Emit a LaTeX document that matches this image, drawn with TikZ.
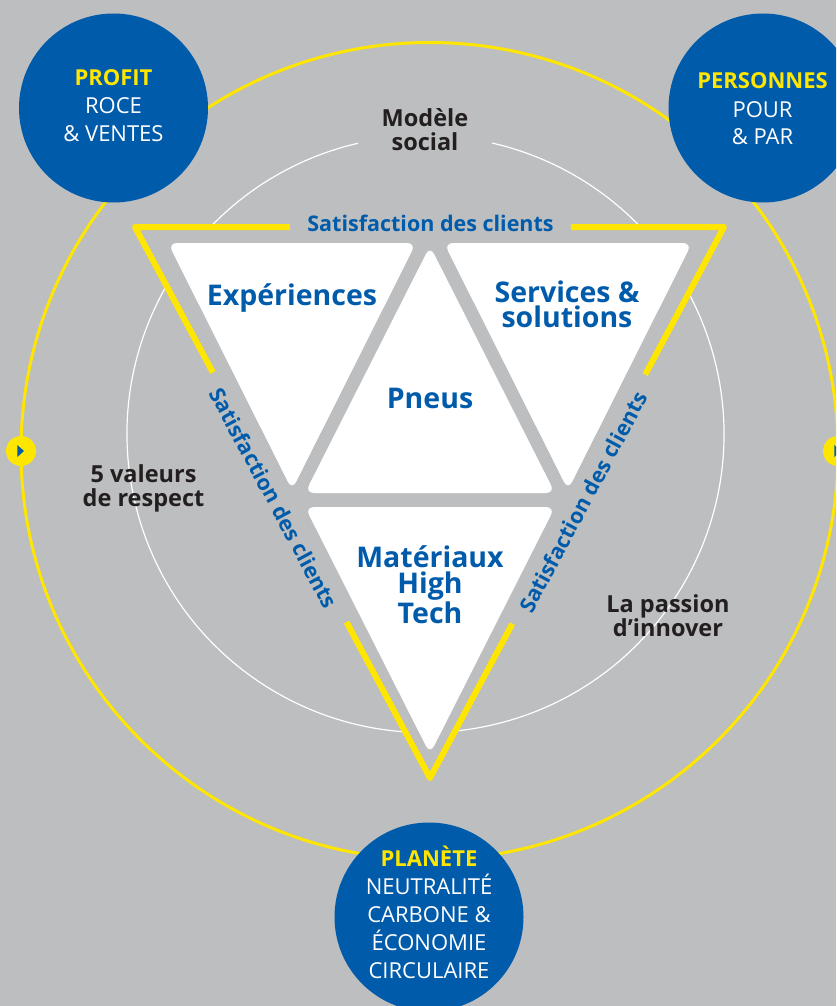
\documentclass[tikz,border=0pt]{standalone}
\usepackage{fontspec}
\setmainfont{Open Sans}
\usetikzlibrary{calc}
\definecolor{bg}{RGB}{188,190,192}
\definecolor{mblue}{RGB}{0,91,170}
\definecolor{myellow}{RGB}{255,230,0}
\definecolor{dark}{RGB}{35,31,32}
\begin{document}
\begin{tikzpicture}[x=1pt,y=-1pt,
  tri/.style={fill=white, rounded corners=9pt},
  yseg/.style={draw=myellow, line width=6pt, line join=round},
  big/.style={font=\bfseries\fontsize{28.5}{26}\selectfont, text=mblue, align=center, inner sep=0pt, anchor=base},
  dlab/.style={font=\bfseries\fontsize{23.5}{23.8}\selectfont, text=dark, align=center, inner sep=0pt, anchor=base},
  sat/.style={font=\bfseries\fontsize{21.5}{21.5}\selectfont, text=mblue, inner sep=0pt},
  bluec/.style={circle, fill=mblue, minimum size=189pt, inner sep=0pt},
  ctext/.style={font=\fontsize{22}{28}\selectfont, text=white, align=center, inner sep=0pt, anchor=base},
  playc/.style={circle, fill=myellow, minimum size=30pt, inner sep=0pt}
]
\useasboundingbox (0,0) rectangle (836,1006);
\clip (0,0) rectangle (836,1006);
\fill[bg] (0,0) rectangle (836,1006);

% outer yellow ring
\draw[myellow, line width=3pt] (429.5,451) circle[radius=408.5];
% inner white ring with a gap under "Modele social"
\draw[white, line width=1.2pt] (425.5,434) ++(-103.06:298.5) arc[start angle=-103.06, end angle=-437.1, radius=298.5];

% yellow triangle
\coordinate (TL) at (135,227);
\coordinate (TR) at (724,227);
\coordinate (BV) at (430,778);
\fill[bg] (TL) -- (TR) -- (BV) -- cycle;
\draw[yseg] ($(TL)!0.263!(TR)$) -- (TL) -- ($(TL)!0.264!(BV)$);
\draw[yseg] ($(TL)!0.717!(BV)$) -- (BV) -- ($(TR)!0.72!(BV)$);
\draw[yseg] ($(TR)!0.268!(BV)$) -- (TR) -- ($(TL)!0.74!(TR)$);

% white triangles
\fill[tri] (168,243) -- (416,243) -- (292,490) -- cycle;
\fill[tri] (444,243) -- (692,243) -- (568,490) -- cycle;
\fill[tri] (430,246) -- (555,493) -- (305,493) -- cycle;
\fill[tri] (305,507) -- (555,507) -- (430,754) -- cycle;

% triangle labels (anchored at the baseline of the last line)
\node[big] (exp) at (292,305) {Expériences};
\node[big, font=\bfseries\fontsize{28.5}{25}\selectfont] (serv) at (567,327) {Services \&\\solutions};
\node[big] (pneus) at (430,408) {Pneus};
\node[big] (mat) at (430,623.3) {Matériaux\\High\\Tech};

% satisfaction labels
\node[sat, anchor=base] (satT) at (430.5,231.5) {Satisfaction des clients};
\node[sat, rotate=-61.84] (satL) at (274,498) {Satisfaction des clients};
\node[sat, rotate=61.84] (satR) at (583,502) {Satisfaction des clients};

% dark labels
\node[dlab] (social) at (425,150.7) {Modèle\\social};
\node[dlab] (valeurs) at (143.5,506.7) {5 valeurs\\de respect};
\node[dlab] (passion) at (668,636.7) {La passion\\d’innover};

% blue circles
\node[bluec] (profit) at (113.5,108) {};
\node[bluec] (personnes) at (763,108) {};
\node[bluec] (planete) at (429,917) {};
\node[ctext] (profitT) at (113.5,141.7) {{\bfseries\color{myellow}PROFIT}\\ROCE\\\& VENTES};
\node[ctext] (personnesT) at (762.5,145) {{\bfseries\color{myellow}PERSONNES}\\POUR\\\& PAR};
\node[ctext] (planeteT) at (429,978.3) {{\bfseries\color{myellow}PLANÈTE}\\NEUTRALITÉ\\CARBONE \&\\ÉCONOMIE\\CIRCULAIRE};

% play buttons
\node[playc] (playL) at (21,451) {};
\node[playc] (playR) at (838,451) {};
\fill[mblue] ($(playL)+(-3.7,-6)$) -- ($(playL)+(3,0)$) -- ($(playL)+(-3.7,6)$) -- cycle;
\fill[mblue] ($(playR)+(-3.7,-6)$) -- ($(playR)+(3,0)$) -- ($(playR)+(-3.7,6)$) -- cycle;
\end{tikzpicture}
\end{document}
